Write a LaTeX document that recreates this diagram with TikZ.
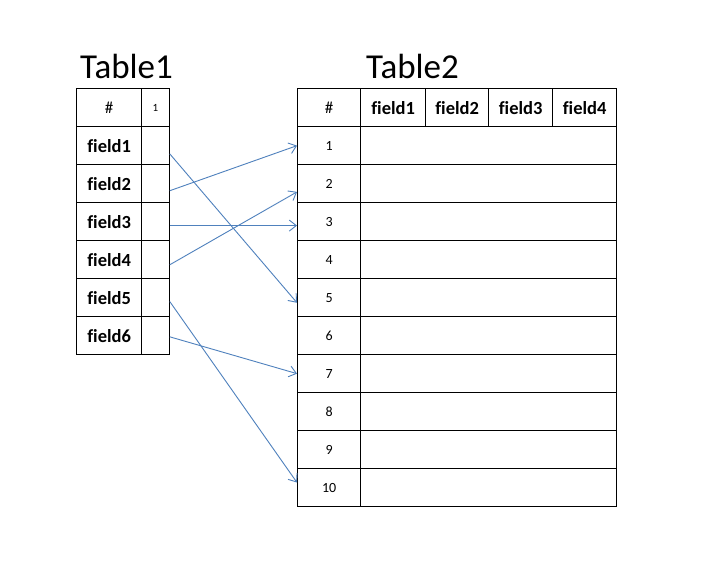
\documentclass[tikz,border=0pt]{standalone}
\usepackage{fontspec}
\setmainfont{Carlito}[Ligatures=NoCommon]
\usetikzlibrary{arrows.meta,calc}
\definecolor{arrowblue}{RGB}{79,129,189}
\tikzset{
  cell/.style={draw=black, line width=1.3pt, inner sep=0pt, anchor=north west, minimum height=38pt},
  hdrtxt/.style={font=\fontsize{18.5}{18.5}\selectfont\bfseries},
  numtxt/.style={font=\fontsize{14}{14}\selectfont},
  hashtxt/.style={font=\fontsize{17}{17}\selectfont},
  title/.style={font=\fontsize{35}{35}\selectfont, inner sep=0pt, anchor=base west},
  link/.style={draw=arrowblue, line width=0.9pt, -{Straight Barb[length=7pt,width=11pt]}}
}
\begin{document}
\begin{tikzpicture}[x=1pt,y=-1pt]
\useasboundingbox[fill=white] (0,0) rectangle (720,577);
% titles
\node[title] (title1) at (80,79) {Table1};
\node[title] (title2) at (366,79) {Table2};
% Table1
\node[cell, minimum width=65pt, hashtxt] (t1h) at (76,88) {\#};
\node[cell, minimum width=27.5pt, font=\fontsize{11}{11}\selectfont] (t1hv) at (141,88) {1};
\foreach \i in {1,...,6} {
  \node[cell, minimum width=65pt, hdrtxt] (t1f\i) at (76,{88+38*\i}) {field\i};
  \node[cell, minimum width=27.5pt] (t1v\i) at (141,{88+38*\i}) {};
}
% Table2
\node[cell, minimum width=63pt, hashtxt] (t2h) at (297,88) {\#};
\node[cell, minimum width=65pt, hdrtxt] (t2c1) at (360,88) {field1};
\node[cell, minimum width=63pt, hdrtxt] (t2c2) at (425,88) {field2};
\node[cell, minimum width=64pt, hdrtxt] (t2c3) at (488,88) {field3};
\node[cell, minimum width=64pt, hdrtxt] (t2c4) at (552,88) {field4};
\foreach \r in {1,...,10} {
  \node[cell, minimum width=63pt, numtxt] (t2n\r) at (297,{88+38*\r}) {\r};
  \node[cell, minimum width=256pt] (t2d\r) at (360,{88+38*\r}) {};
}
% links
\draw[link] ($(t1v1.north east)!0.71!(t1v1.south east)$) -- ($(t2n5.north west)!0.63!(t2n5.south west)$);
\draw[link] ($(t1v2.north east)!0.68!(t1v2.south east)$) -- ($(t2n1.north west)!0.5!(t2n1.south west)$);
\draw[link] ($(t1v3.north east)!0.6!(t1v3.south east)$) -- ($(t2n3.north west)!0.6!(t2n3.south west)$);
\draw[link] ($(t1v4.north east)!0.63!(t1v4.south east)$) -- ($(t2n2.north west)!0.71!(t2n2.south west)$);
\draw[link] ($(t1v5.north east)!0.6!(t1v5.south east)$) -- ($(t2n10.north west)!0.37!(t2n10.south west)$);
\draw[link] ($(t1v6.north east)!0.53!(t1v6.south east)$) -- ($(t2n7.north west)!0.5!(t2n7.south west)$);
\end{tikzpicture}
\end{document}
